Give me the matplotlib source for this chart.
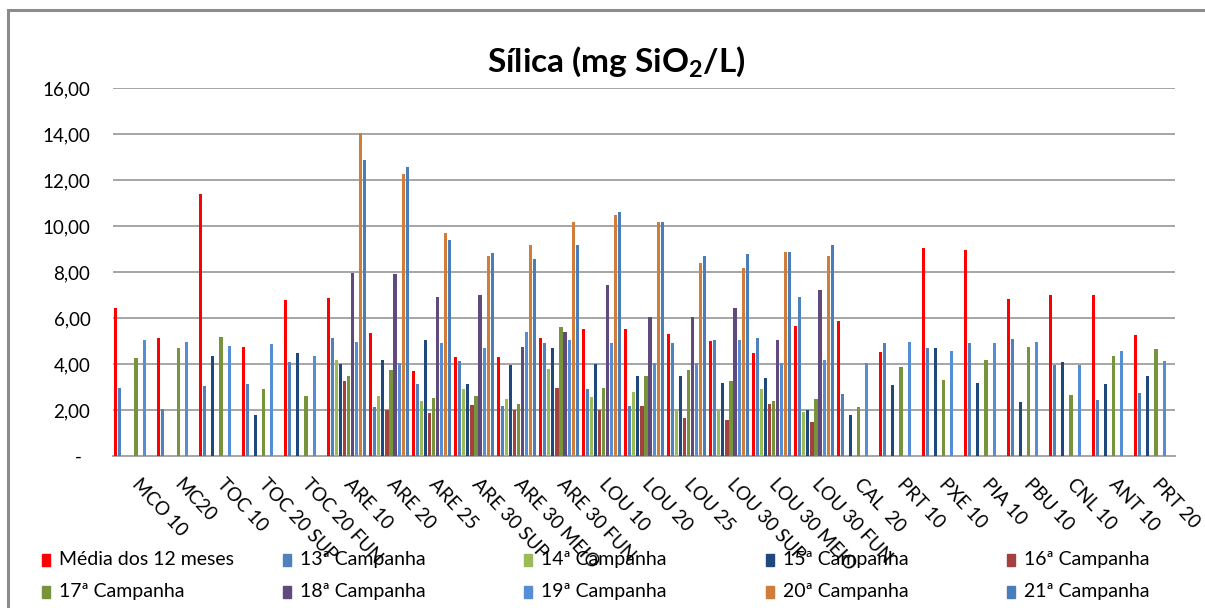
import numpy as np
import matplotlib
matplotlib.use("Agg")
import matplotlib.pyplot as plt
from matplotlib.patches import Rectangle
from matplotlib.transforms import ScaledTranslation

plt.rcParams['font.family'] = ['Lato', 'DejaVu Sans']
plt.rcParams['mathtext.fontset'] = 'custom'
plt.rcParams['mathtext.rm'] = 'Lato'
plt.rcParams['mathtext.bf'] = 'Lato:bold'

nan = np.nan

############## Data ##################
stations = ["MCO 10", "MC20", "TOC 10", "TOC 20 SUP", "TOC 20 FUN", "ARE 10", "ARE 20",
            "ARE 25", "ARE 30 SUP", "ARE 30 MEIO", "ARE 30 FUN", "LOU 10", "LOU 20",
            "LOU 25", "LOU 30 SUP", "LOU 30 MEIO", "LOU 30 FUN", "CAL  20", "PRT 10",
            "PXE 10", "PIA 10", "PBU 10", "CNL 10", "ANT 10", "PRT 20"]

media_12 = [6.45, 5.14, 11.38, 4.72, 6.77, 6.86, 5.33, 3.70, 4.32, 4.32, 5.11, 5.54, 5.54,
            5.32, 5.01, 4.49, 5.65, 5.86, 4.54, 9.06, 8.97, 6.81, 6.99, 6.99, 5.25]
camp_13 = [2.94, 2.04, 3.03, 3.14, 4.09, 5.12, 2.12, 3.12, 4.12, 2.17, 4.91, 2.90, 2.16,
           4.91, 5.06, 5.12, 6.91, 2.71, 4.91, 4.70, 4.90, 5.09, 3.97, 2.42, 2.72]
camp_14 = [nan, nan, nan, nan, nan, 4.17, 2.59, 2.38, 2.90, 2.49, 3.80, 2.58, 2.80,
           2.06, 1.99, 2.90, 1.91, nan, nan, nan, nan, nan, nan, nan, nan]
camp_15 = [nan, nan, 4.35, 1.78, 4.46, 3.99, 4.17, 5.06, 3.12, 3.97, 4.70, 3.99, 3.49,
           3.49, 3.19, 3.38, 1.99, 1.80, 3.07, 4.70, 3.17, 2.36, 4.09, 3.14, 3.46]
camp_16 = [nan, nan, nan, nan, nan, 3.28, 2.01, 1.86, 2.23, 1.99, 2.96, 2.00, 2.16,
           1.65, 1.55, 2.28, 1.49, nan, nan, nan, nan, nan, nan, nan, nan]
camp_17 = [4.25, 4.68, 5.19, 2.90, 2.61, 3.49, 3.75, 2.54, 2.59, 2.28, 5.59, 2.96, 3.49,
           3.75, 3.28, 2.38, 2.48, 2.12, 3.86, 3.32, 4.16, 4.72, 2.67, 4.35, 4.67]
camp_18 = [nan, nan, nan, nan, nan, 7.97, 7.90, 6.91, 7.01, 4.74, 5.39, 7.43, 6.06,
           6.06, 6.43, 5.06, 7.23, nan, nan, nan, nan, nan, nan, nan, nan]
camp_19 = [5.03, 4.94, 4.77, 4.88, 4.35, 4.97, 4.06, 4.90, 4.70, 5.38, 5.06, 4.91, 4.06,
           4.06, 5.06, 4.06, 4.16, 4.06, 4.96, 4.58, 4.90, 4.94, 3.94, 4.57, 4.14]
camp_20 = [nan, nan, nan, nan, nan, 14.06, 12.26, 9.68, 8.70, 9.17, 10.16, 10.49, 10.16,
           8.38, 8.17, 8.86, 8.70, nan, nan, nan, nan, nan, nan, nan, nan]
camp_21 = [nan, nan, nan, nan, nan, 12.86, 12.58, 9.38, 8.84, 8.58, 9.16, 10.59, 10.16,
           8.70, 8.80, 8.86, 9.17, nan, nan, nan, nan, nan, nan, nan, nan]

series_names = ["Média dos 12 meses", "13ª Campanha", "14ª Campanha", "15ª Campanha",
                "16ª Campanha", "17ª Campanha", "18ª Campanha", "19ª Campanha",
                "20ª Campanha", "21ª Campanha"]
series_vals = [media_12, camp_13, camp_14, camp_15, camp_16, camp_17, camp_18, camp_19,
               camp_20, camp_21]
colors = ["#FF0000", "#4F81BD", "#9BBB59", "#1F497D", "#A2413E", "#77933C", "#604A7B",
          "#558ED5", "#D07C3A", "#4A7EBB"]

y_ticks = [0, 2, 4, 6, 8, 10, 12, 14, 16]
y_labels = ["-", "2,00", "4,00", "6,00", "8,00", "10,00", "12,00", "14,00", "16,00"]

############## Plot ##################
W, H = 1205, 608
fig = plt.figure(figsize=(W / 100, H / 100), dpi=100)
ax = fig.add_axes([112.7 / W, 1 - 456 / H, 1062.5 / W, 368 / H])

x = np.arange(len(stations))
slot = 0.0958
for k, (vals, col) in enumerate(zip(series_vals, colors)):
    ax.bar(x + (k - 4.5) * slot, vals, width=0.075, color=col, zorder=3)

ax.set_xlim(-0.5, len(stations) - 0.5)
ax.set_ylim(0, 16)
ax.set_yticks(y_ticks)
ax.set_yticklabels(y_labels, fontsize=13.5)
ax.yaxis.grid(True, color="#A6A6A6", linewidth=1.4, zorder=0)
ax.tick_params(axis="y", length=0, pad=16)
ax.tick_params(axis="x", length=0, pad=14)
for s in ["top", "right", "left"]:
    ax.spines[s].set_visible(False)
ax.spines["bottom"].set_color("#A6A6A6")
ax.spines["bottom"].set_linewidth(1.4)

# "-" for zero sits a bit left of the right edge, like Excel accounting format
zero_lbl = ax.get_yticklabels()[0]
zero_lbl.set_transform(zero_lbl.get_transform() + ScaledTranslation(-6 / 72, 0, fig.dpi_scale_trans))

ax.set_xticks(x)
ax.set_xticklabels(stations, fontsize=13.5, rotation=-47, ha="left", va="top",
                   rotation_mode="anchor")
for lbl in ax.get_xticklabels():
    lbl.set_transform(lbl.get_transform() + ScaledTranslation(5 / 72, 0, fig.dpi_scale_trans))

# title
fig.text(616 / W, 1 - 62 / H, "Sílica (mg SiO$\\mathbf{_2}$/L)", fontsize=24,
         fontweight="bold", ha="center", va="center")

# legend, laid out like Excel (2 rows x 5 columns)
for i, (name, col) in enumerate(zip(series_names, colors)):
    row, c = divmod(i, 5)
    x0 = 41.7 + 241.3 * c
    yc = 559.5 + 32.5 * row
    fig.patches.append(Rectangle((x0 / W, 1 - (yc + 6) / H), 8 / W, 12 / H,
                                 transform=fig.transFigure, color=col))
    fig.text((x0 + 17) / W, 1 - yc / H, name, fontsize=14, ha="left", va="center")

# chart frame
fig.patches.append(Rectangle((8 / W, -0.1), 1.2, 1 - 10 / H + 0.1, transform=fig.transFigure,
                             fill=False, edgecolor="#8C8C8C", linewidth=2.2))

plt.savefig("out.png", dpi=100)
